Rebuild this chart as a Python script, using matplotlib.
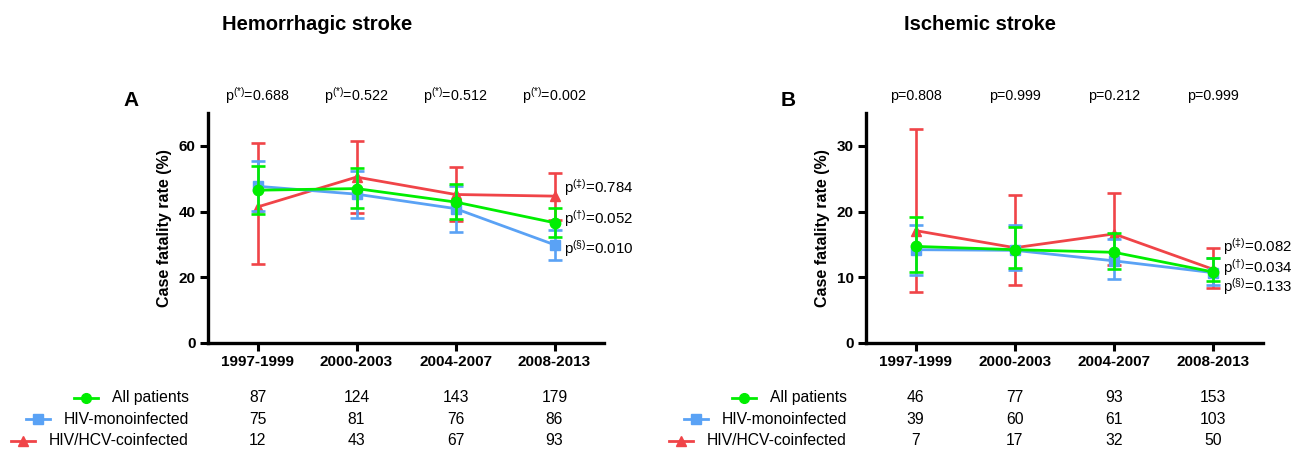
import matplotlib
matplotlib.use('Agg')
import matplotlib.pyplot as plt
from matplotlib.lines import Line2D
from matplotlib.transforms import blended_transform_factory

plt.rcParams['font.family'] = ['Liberation Sans', 'DejaVu Sans']
plt.rcParams['mathtext.fontset'] = 'custom'
plt.rcParams['mathtext.rm'] = 'Liberation Sans'
plt.rcParams['mathtext.it'] = 'Liberation Sans:italic'
plt.rcParams['mathtext.bf'] = 'Liberation Sans:bold'

periods = ['1997-1999', '2000-2003', '2004-2007', '2008-2013']
groups = ['All patients', 'HIV-monoinfected', 'HIV/HCV-coinfected']

# hemorrhagic stroke: rate, lower, upper
hem_all = [46.5, 47.0, 42.9, 36.6]
hem_all_lo = [39.4, 41.0, 37.8, 32.4]
hem_all_hi = [53.9, 53.4, 48.5, 41.1]
hem_mono = [47.7, 45.3, 40.9, 29.9]
hem_mono_lo = [40.3, 38.0, 33.9, 25.4]
hem_mono_hi = [55.4, 52.5, 47.9, 34.5]
hem_co = [41.4, 50.5, 45.2, 44.7]
hem_co_lo = [24.0, 39.6, 37.1, 37.5]
hem_co_hi = [60.8, 61.5, 53.6, 51.6]

# ischemic stroke
isc_all = [14.7, 14.2, 13.8, 10.8]
isc_all_lo = [10.8, 11.4, 11.2, 9.4]
isc_all_hi = [19.1, 17.6, 16.7, 12.9]
isc_mono = [14.2, 14.1, 12.5, 10.7]
isc_mono_lo = [10.4, 11.1, 9.8, 8.8]
isc_mono_hi = [18.0, 18.0, 15.9, 13.0]
isc_co = [17.1, 14.5, 16.6, 11.2]
isc_co_lo = [7.7, 8.9, 11.8, 8.4]
isc_co_hi = [32.6, 22.5, 22.9, 14.5]

# number of patients
hem_n_all = [87, 124, 143, 179]
hem_n_mono = [75, 81, 76, 86]
hem_n_co = [12, 43, 67, 93]
isc_n_all = [46, 77, 93, 153]
isc_n_mono = [39, 60, 61, 103]
isc_n_co = [7, 17, 32, 50]

hem_p_top = ['p$^{\\mathrm{(*)}}$=0.688', 'p$^{\\mathrm{(*)}}$=0.522',
             'p$^{\\mathrm{(*)}}$=0.512', 'p$^{\\mathrm{(*)}}$=0.002']
isc_p_top = ['p=0.808', 'p=0.999', 'p=0.212', 'p=0.999']
hem_p_side = ['p$^{\\mathrm{(‡)}}$=0.784', 'p$^{\\mathrm{(†)}}$=0.052', 'p$^{\\mathrm{(§)}}$=0.010']
hem_p_side_y = [47.3, 38.0, 28.8]
isc_p_side = ['p$^{\\mathrm{(‡)}}$=0.082', 'p$^{\\mathrm{(†)}}$=0.034', 'p$^{\\mathrm{(§)}}$=0.133']
isc_p_side_y = [14.7, 11.5, 8.6]

colors = ['#00ee00', '#5aa2f5', '#f04448']
markers = ['o', 's', '^']

W, H = 1298, 451
fig = plt.figure(figsize=(W / 100, H / 100), dpi=100)
axA = fig.add_axes([208 / W, 1 - 343 / H, 396 / W, 230 / H])
axB = fig.add_axes([866 / W, 1 - 343 / H, 397 / W, 230 / H])


def draw_panel(ax, series, ylim, yticks, ptop, pside, pside_y, counts, legend_x):
    x = list(range(len(periods)))
    # red first, green on top
    for (vals, lo, hi), c, m, z in reversed(list(zip(series, colors, markers, [5, 4, 3]))):
        err = [[v - l for v, l in zip(vals, lo)], [h - v for v, h in zip(vals, hi)]]
        ax.errorbar(x, vals, yerr=err, color=c, marker=m, markersize=7.5, lw=2.0,
                    elinewidth=1.9, capsize=5, capthick=1.9, zorder=z)
    ax.set_xlim(-0.5, 3.5)
    ax.set_ylim(*ylim)
    ax.set_yticks(yticks)
    ax.set_xticks(x)
    ax.set_xticklabels(periods)
    for s in ['top', 'right']:
        ax.spines[s].set_visible(False)
    for s in ['left', 'bottom']:
        ax.spines[s].set_linewidth(2.4)
    ax.tick_params(width=2.2, length=6, labelsize=11, pad=3)
    for lab in ax.get_xticklabels() + ax.get_yticklabels():
        lab.set_fontweight('bold')
    ax.set_ylabel('Case fatality rate (%)', fontsize=11.5, fontweight='bold', labelpad=5)

    tr = blended_transform_factory(ax.transData, fig.transFigure)
    for xi, t in zip(x, ptop):
        ax.text(xi, 1 - 96 / H, t, transform=tr, ha='center', va='center', fontsize=10.3)
    for t, yv in zip(pside, pside_y):
        ax.text(3.1, yv, t, ha='left', va='center', fontsize=10.8)

    rows_y = [1 - 397.5 / H, 1 - 419 / H, 1 - 440.5 / H]
    for row, yy in zip(counts, rows_y):
        for xi, n in zip(x, row):
            ax.text(xi, yy, str(n), transform=tr, ha='center', va='center', fontsize=11.3)

    # legend labels with handles left of the text
    fig.canvas.draw()
    rend = fig.canvas.get_renderer()
    for g, yy, c, m in zip(groups, rows_y, colors, markers):
        t = fig.text(legend_x / W, yy, g, ha='right', va='center', fontsize=11.3)
        bb = t.get_window_extent(renderer=rend)
        x1 = bb.x0 - 14
        x0 = x1 - 24
        fig.add_artist(Line2D([x0 / W, x1 / W], [yy, yy], transform=fig.transFigure,
                              color=c, lw=2.0))
        fig.add_artist(Line2D([(x0 + x1) / 2 / W], [yy], transform=fig.transFigure,
                              color=c, marker=m, markersize=7, lw=0))


draw_panel(axA,
           [(hem_all, hem_all_lo, hem_all_hi), (hem_mono, hem_mono_lo, hem_mono_hi),
            (hem_co, hem_co_lo, hem_co_hi)],
           (0, 70), [0, 20, 40, 60], hem_p_top, hem_p_side, hem_p_side_y,
           [hem_n_all, hem_n_mono, hem_n_co], 189)
draw_panel(axB,
           [(isc_all, isc_all_lo, isc_all_hi), (isc_mono, isc_mono_lo, isc_mono_hi),
            (isc_co, isc_co_lo, isc_co_hi)],
           (0, 35), [0, 10, 20, 30], isc_p_top, isc_p_side, isc_p_side_y,
           [isc_n_all, isc_n_mono, isc_n_co], 847)

fig.text(317 / W, 1 - 25 / H, 'Hemorrhagic stroke', ha='center', va='center',
         fontsize=14.5, fontweight='bold')
fig.text(980 / W, 1 - 25 / H, 'Ischemic stroke', ha='center', va='center',
         fontsize=14.5, fontweight='bold')
fig.text(131 / W, 1 - 100 / H, 'A', ha='center', va='center', fontsize=15, fontweight='bold')
fig.text(788 / W, 1 - 100 / H, 'B', ha='center', va='center', fontsize=15, fontweight='bold')

fig.savefig('out.png', dpi=100)
